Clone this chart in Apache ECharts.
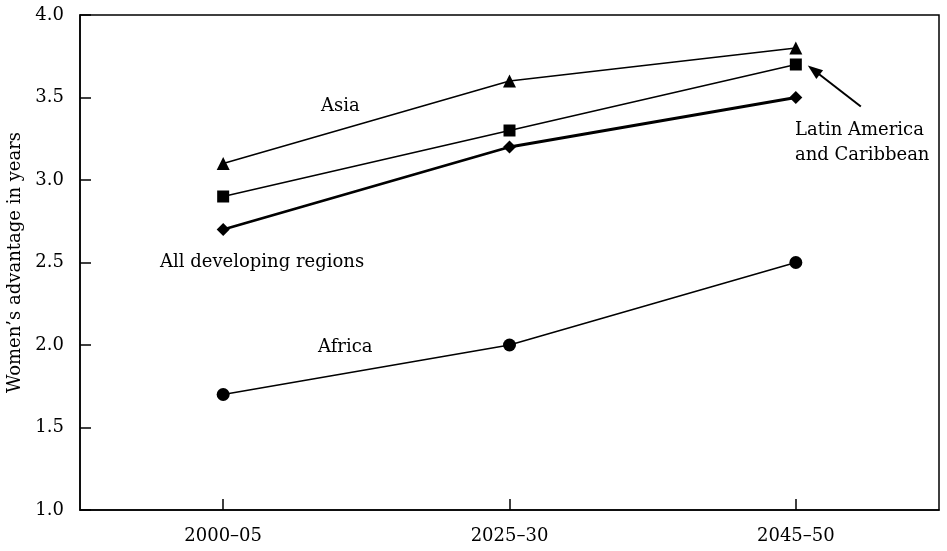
<!DOCTYPE html>
<html><head><meta charset="utf-8">
<script src="https://cdn.jsdelivr.net/npm/echarts@6/dist/echarts.min.js"></script>
<style>html,body{margin:0;padding:0;background:#fff}#c{width:947px;height:551px}</style>
</head><body><div id="c"></div>
<script>
const categories = ['2000–05', '2025–30', '2045–50'];
const asia = [3.1, 3.6, 3.8];
const latinAmerica = [2.9, 3.3, 3.7];
const allDeveloping = [2.7, 3.2, 3.5];
const africa = [1.7, 2.0, 2.5];
const yTicks = [1.0, 1.5, 2.0, 2.5, 3.0, 3.5, 4.0];

const F = '"DejaVu Serif", "Liberation Serif", serif';
const FS = 18;
const chart = echarts.init(document.getElementById('c'));
function s(name, data, symbol, size, width) {
  return {name, type: 'line', data, symbol, symbolSize: size, showSymbol: true,
    lineStyle: {color: '#000', width}, itemStyle: {color: '#000'}, animation: false, z: 3};
}
chart.setOption({
  animation: false,
  grid: {left: 80, right: 8, top: 15, bottom: 41, outerBoundsMode: 'none', containLabel: false,
    show: true, borderColor: '#000', borderWidth: 1.5, backgroundColor: 'transparent'},
  xAxis: {type: 'category', data: categories, boundaryGap: true,
    axisLine: {lineStyle: {color: '#000', width: 1.5}},
    axisTick: {show: true, alignWithLabel: true, inside: true, length: 11, lineStyle: {color: '#000', width: 1.5}},
    axisLabel: {color: '#000', fontFamily: F, fontSize: FS, margin: 17}},
  yAxis: {type: 'value', min: 1.0, max: 4.0, interval: 0.5,
    name: 'Women’s advantage in years', nameLocation: 'middle', nameGap: 54,
    nameTextStyle: {color: '#000', fontFamily: F, fontSize: FS},
    splitLine: {show: false},
    axisLine: {show: true, lineStyle: {color: '#000', width: 1.5}},
    axisTick: {show: true, inside: true, length: 11, lineStyle: {color: '#000', width: 1.5}},
    axisLabel: {color: '#000', fontFamily: F, fontSize: FS, margin: 16,
      formatter: v => yTicks.includes(v) ? v.toFixed(1) : ''}},
  series: [
    s('Asia', asia, 'triangle', 13, 1.5),
    s('Latin America and Caribbean', latinAmerica, 'rect', 12, 1.5),
    s('All developing regions', allDeveloping, 'diamond', 13, 2.8),
    s('Africa', africa, 'circle', 13, 1.5)
  ]
});
const tip = chart.convertToPixel({seriesIndex: 1}, [2, latinAmerica[2]]);
const txt = (x, y, t) => ({type: 'text', x, y, style: {text: t, fill: '#000', font: FS + 'px ' + F, align: 'left', verticalAlign: 'middle', lineHeight: 25}});
const ax = tip[0] + 12, ay = tip[1] + 1, bx = tip[0] + 65, by = tip[1] + 42;
const ang = Math.atan2(ay - by, ax - bx), L = 15, W = 5.5;
chart.setOption({graphic: [
  txt(321, 106, 'Asia'),
  txt(795, 143, 'Latin America\nand Caribbean'),
  txt(160, 262, 'All developing regions'),
  txt(318, 347, 'Africa'),
  {type: 'line', shape: {x1: bx, y1: by, x2: ax - L * 0.6 * Math.cos(ang), y2: ay - L * 0.6 * Math.sin(ang)}, style: {stroke: '#000', lineWidth: 2}},
  {type: 'polygon', shape: {points: [[ax, ay],
    [ax - L * Math.cos(ang) + W * Math.sin(ang), ay - L * Math.sin(ang) - W * Math.cos(ang)],
    [ax - L * Math.cos(ang) - W * Math.sin(ang), ay - L * Math.sin(ang) + W * Math.cos(ang)]]}, style: {fill: '#000'}}
]});
</script></body></html>
